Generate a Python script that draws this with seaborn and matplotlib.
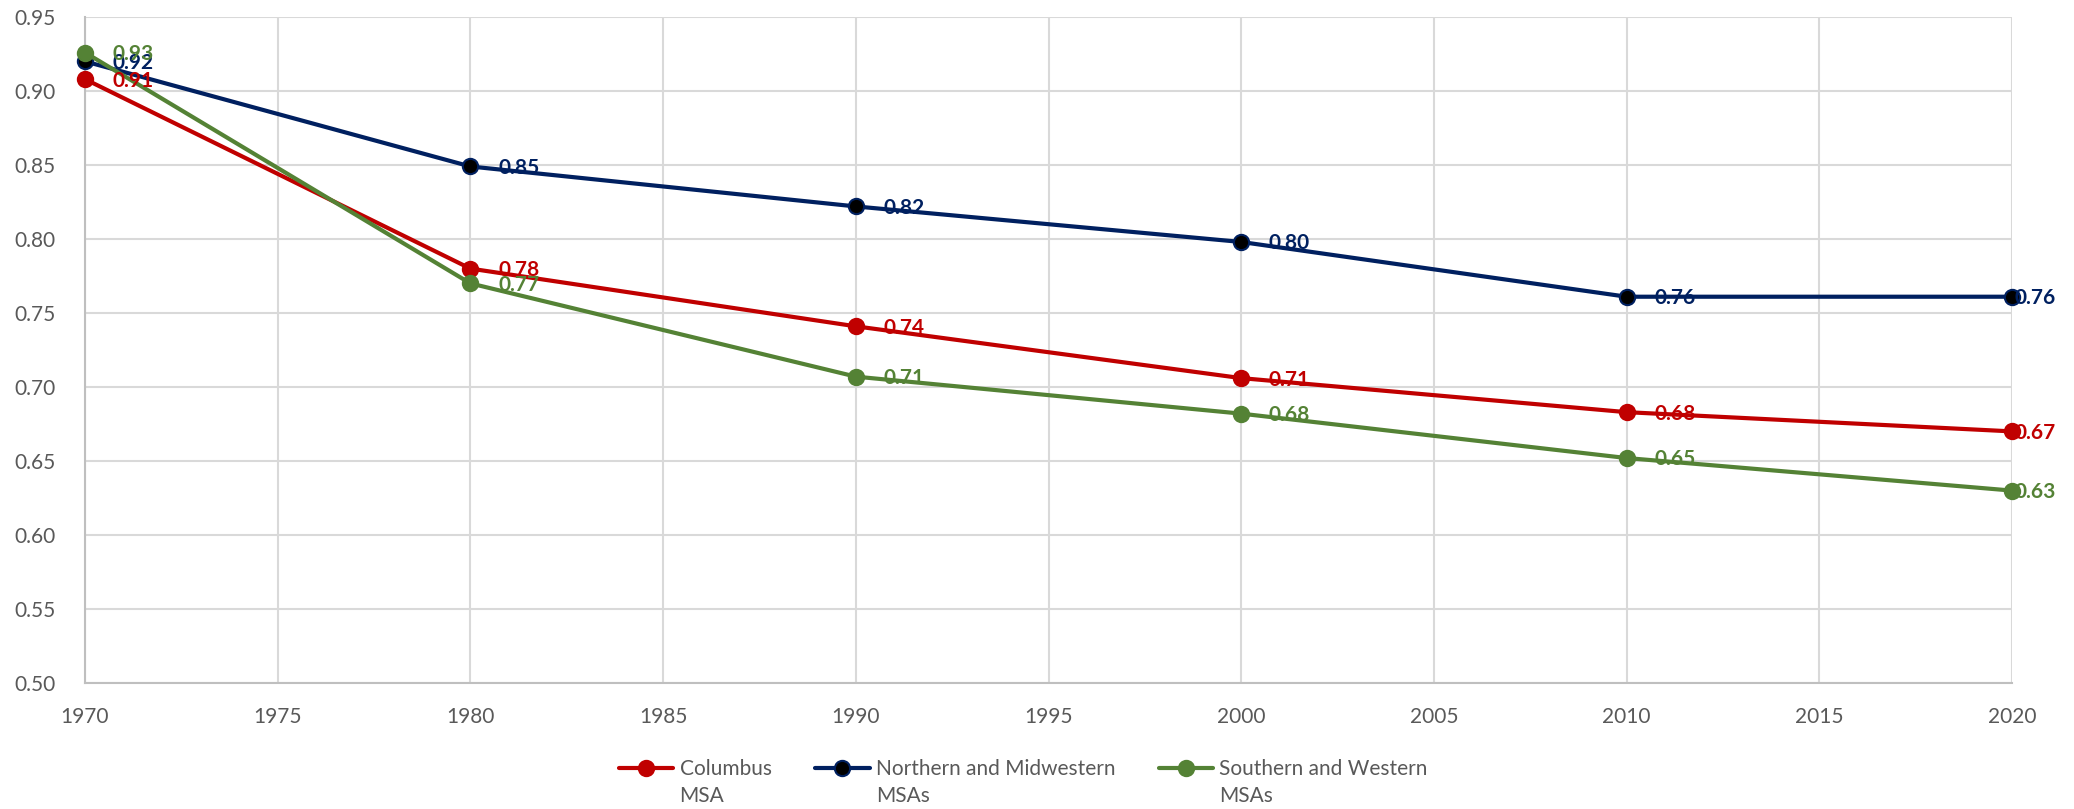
import matplotlib
matplotlib.use("Agg")
import matplotlib.pyplot as plt
from matplotlib.legend_handler import HandlerLine2D
import pandas as pd
import seaborn as sns

# Census years and the three series
years = [1970, 1980, 1990, 2000, 2010, 2020]
columbus = [0.908, 0.780, 0.741, 0.706, 0.683, 0.670]
north_midwest = [0.920, 0.849, 0.822, 0.798, 0.761, 0.761]
south_west = [0.926, 0.770, 0.707, 0.682, 0.652, 0.630]

series_names = ["Columbus\nMSA", "Northern and Midwestern\nMSAs", "Southern and Western\nMSAs"]
line_colors = ["#C00000", "#002060", "#548235"]
face_colors = ["#C00000", "#000000", "#548235"]

x_ticks = list(range(1970, 2021, 5))
y_ticks = [0.50, 0.55, 0.60, 0.65, 0.70, 0.75, 0.80, 0.85, 0.90, 0.95]

sns.set_theme(style="white")
plt.rcParams["font.family"] = ["Lato", "DejaVu Sans"]

W, H = 2074, 809
fig = plt.figure(figsize=(W / 100, H / 100), dpi=100)
ax = fig.add_axes([85 / W, 1 - 683 / H, (2012 - 85) / W, (683 - 17) / H])

text_gray = "#595959"
font_size = 15

values = [columbus, north_midwest, south_west]
frames = []
for name, vals in zip(series_names, values):
    frames.append(pd.DataFrame({"year": years, "value": vals, "series": name}))
df = pd.concat(frames, ignore_index=True)

for name, lc, fc in zip(series_names, line_colors, face_colors):
    sub = df[df["series"] == name]
    sns.lineplot(data=sub, x="year", y="value", ax=ax, color=lc, linewidth=3,
                 marker="o", markersize=11, markerfacecolor=fc,
                 markeredgecolor=lc, markeredgewidth=1.5, label=name,
                 zorder=3, clip_on=False)

# value labels to the right of each point
for vals, lc in zip(values, line_colors):
    for yr, v in zip(years, vals):
        dx = 2 if yr == years[-1] else 20
        ax.annotate(f"{v:.2f}", xy=(yr, v), xytext=(dx, -1), textcoords="offset points",
                    ha="left", va="center", fontsize=font_size, fontweight="bold",
                    color=lc, zorder=4, annotation_clip=False)

ax.set_xlim(1970, 2020)
ax.set_ylim(0.50, 0.95)
ax.set_xticks(x_ticks)
ax.set_yticks(y_ticks)
ax.set_yticklabels([f"{t:.2f}" for t in y_ticks])
ax.set_xlabel("")
ax.set_ylabel("")

ax.grid(True, color="#D9D9D9", linewidth=1.5, zorder=0)
ax.set_axisbelow(True)
for side in ["top", "right"]:
    ax.spines[side].set_visible(False)
for side in ["left", "bottom"]:
    ax.spines[side].set_color("#BFBFBF")
    ax.spines[side].set_linewidth(1.5)
ax.tick_params(axis="y", length=0, pad=21, labelsize=font_size, labelcolor=text_gray)
ax.tick_params(axis="x", length=0, pad=17, labelsize=font_size, labelcolor=text_gray)


class TopLineHandler(HandlerLine2D):
    """Places the legend handle level with the first line of a two-line label."""

    def create_artists(self, legend, orig_handle, xdescent, ydescent, width, height,
                       fontsize, trans):
        artists = super().create_artists(legend, orig_handle, xdescent, ydescent,
                                          width, height, fontsize, trans)
        for a in artists:
            a.set_ydata([y + 0.72 * fontsize for y in a.get_ydata()])
        return artists


handles, labels = ax.get_legend_handles_labels()
if ax.legend_:
    ax.legend_.remove()
leg = fig.legend(handles, labels, loc="center", bbox_to_anchor=(0.4935, 0.033), ncol=3,
                 frameon=False, fontsize=font_size, handlelength=2.6, handletextpad=0.3,
                 columnspacing=2.1, labelcolor=text_gray,
                 handler_map={h: TopLineHandler() for h in handles})
for t in leg.get_texts():
    t.set_linespacing(1.45)

fig.savefig("out.png", dpi=100, facecolor="white")
